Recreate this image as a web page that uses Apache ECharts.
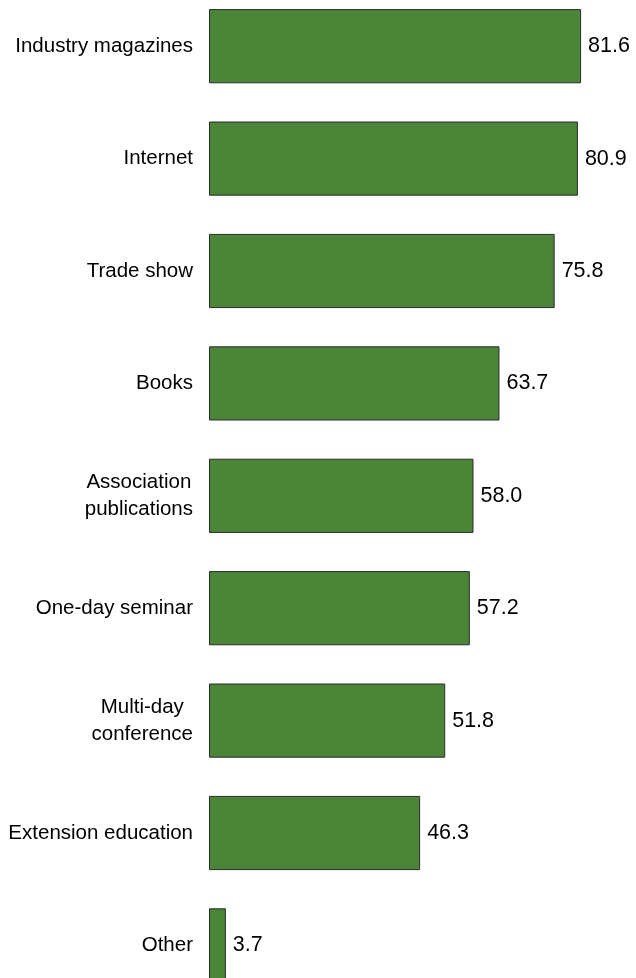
<!DOCTYPE html>
<html>
<head>
<meta charset="utf-8">
<title>Information sources</title>
<script src="https://cdn.jsdelivr.net/npm/echarts@6/dist/echarts.min.js"></script>
<style>
  html, body { margin: 0; padding: 0; background: #ffffff; }
  #chart { width: 636px; height: 978px; }
</style>
</head>
<body>
<div id="chart"></div>
<script>
// Categories, top to bottom
const categories = [
  'Industry magazines',
  'Internet',
  'Trade show',
  'Books',
  'Association\npublications',
  'One-day seminar',
  'Multi-day\nconference',
  'Extension education',
  'Other'
];

// Share of respondents (%)
const values = [81.6, 80.9, 75.8, 63.7, 58.0, 57.2, 51.8, 46.3, 3.7];

const chart = echarts.init(document.getElementById('chart'), null, { renderer: 'canvas' });

const font = '"Liberation Sans", Arial, Helvetica, sans-serif';

chart.setOption({
  animation: false,
  backgroundColor: '#ffffff',
  // Category ticks sit on the grid edges (boundaryGap: false), so the grid
  // spans from the first bar's centre line to the last bar's centre line.
  grid: {
    left: 209,
    top: 46.2,
    width: 410.4,
    height: 899.2,
    containLabel: false,
    outerBoundsMode: 'none'
  },
  xAxis: {
    type: 'value',
    min: 0,
    max: 90,
    show: false,
    splitLine: { show: false }
  },
  yAxis: {
    type: 'category',
    data: categories,
    inverse: true,
    boundaryGap: false,
    axisLine: { show: false },
    axisTick: { show: false },
    splitLine: { show: false },
    axisLabel: {
      margin: 16,
      color: '#000000',
      fontFamily: font,
      fontSize: 20.5,
      lineHeight: 27,
      align: 'right',
      // Two-line labels: block is right-aligned to the bars, lines centred within it
      formatter: v => v.split('\n').map(s => '{c|' + s + '}').join('\n'),
      rich: {
        c: {
          color: '#000000',
          fontFamily: font,
          fontSize: 20.5,
          lineHeight: 27,
          align: 'center'
        }
      }
    }
  },
  series: [{
    type: 'bar',
    data: values,
    clip: false,
    barCategoryGap: '34%',
    itemStyle: {
      color: '#4a8538',
      borderColor: '#2b2b2b',
      borderWidth: 1
    },
    label: {
      show: true,
      position: 'right',
      distance: 7,
      color: '#000000',
      fontFamily: font,
      fontSize: 21.5,
      formatter: p => p.value.toFixed(1)
    }
  }]
});
</script>
</body>
</html>
